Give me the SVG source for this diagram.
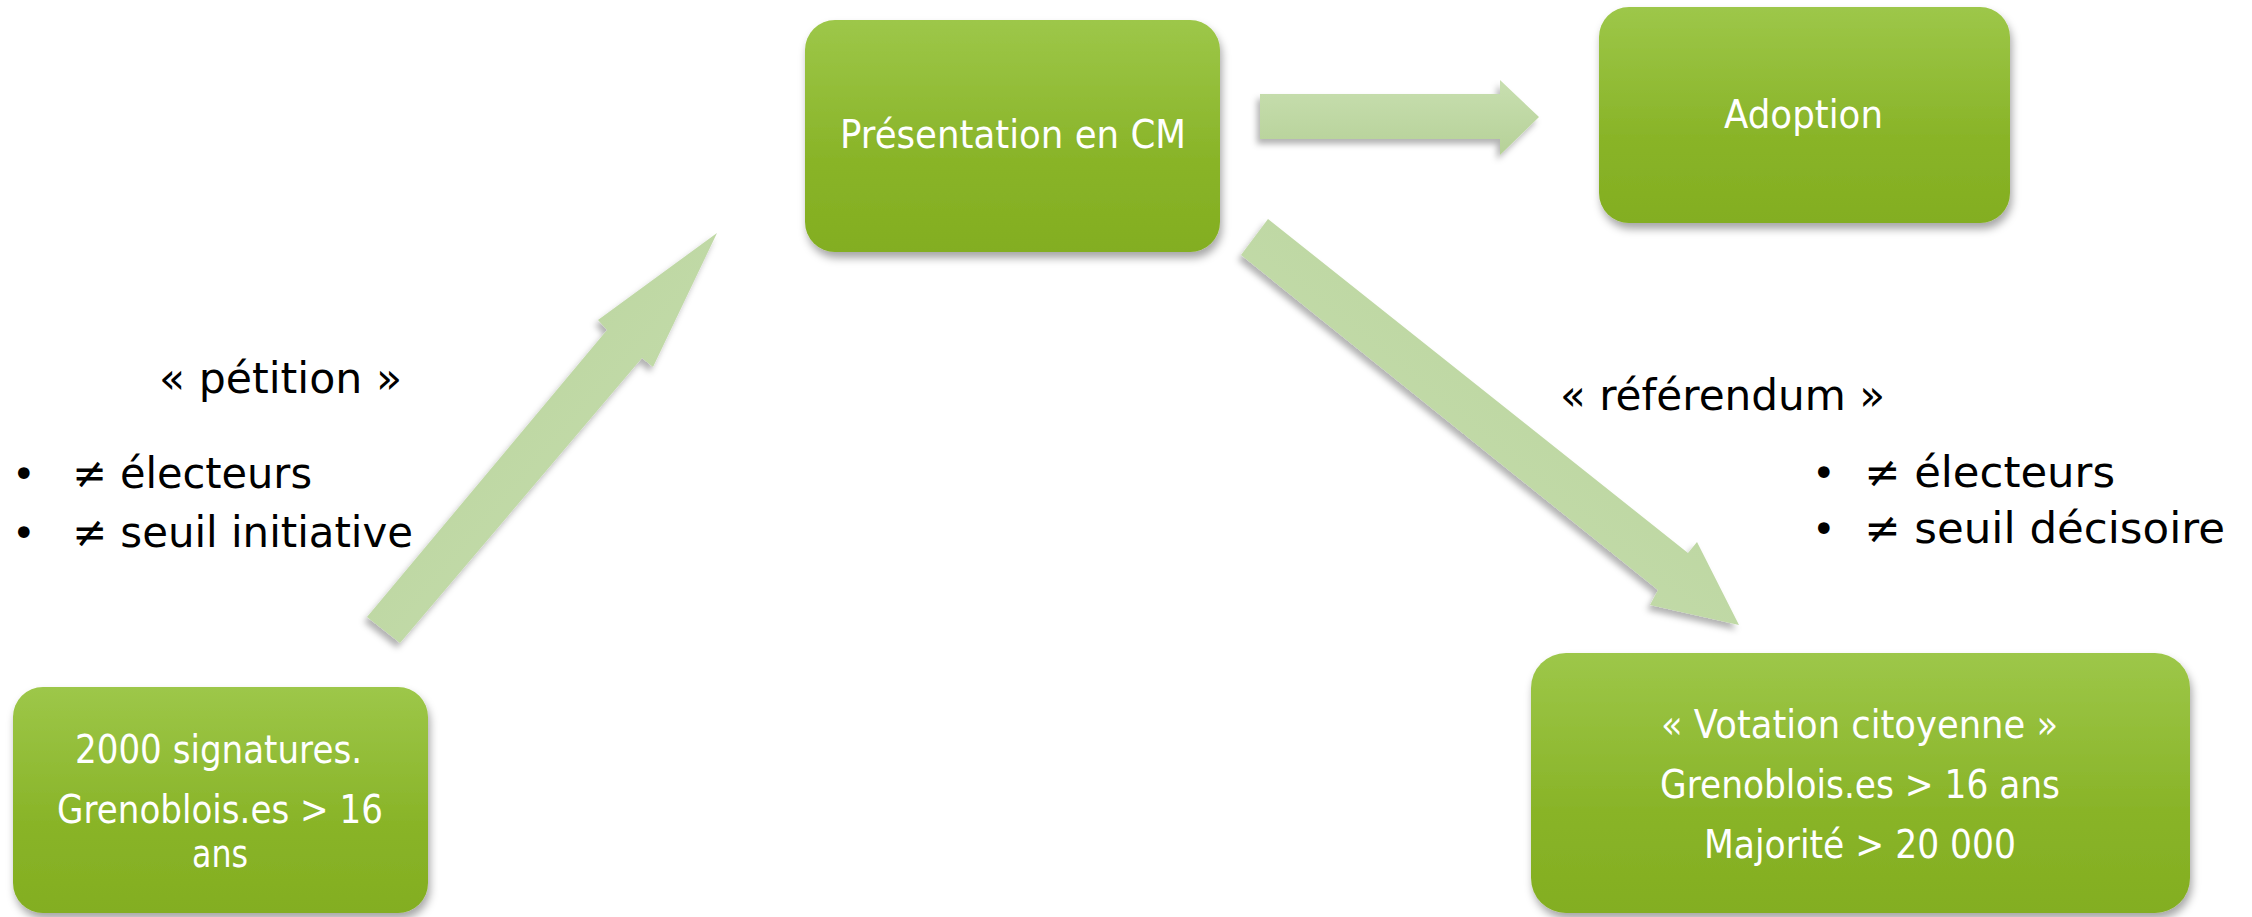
<svg xmlns="http://www.w3.org/2000/svg" width="2252" height="917" viewBox="0 0 2252 917">
  <defs>
    <linearGradient id="nodeGrad" x1="0" y1="0" x2="0" y2="1">
      <stop offset="0" stop-color="#9DC749"/>
      <stop offset="0.6" stop-color="#89B428"/>
      <stop offset="1" stop-color="#83AE21"/>
    </linearGradient>
    <linearGradient id="arrowGradH" x1="0" y1="0" x2="0" y2="1">
      <stop offset="0" stop-color="#C8DFB0"/>
      <stop offset="1" stop-color="#B6D198"/>
    </linearGradient>
    <linearGradient id="arrowGradUp" x1="0" y1="0" x2="1" y2="1">
      <stop offset="0" stop-color="#B6D198"/>
      <stop offset="1" stop-color="#C9E0B2"/>
    </linearGradient>
    <linearGradient id="arrowGradDown" x1="1" y1="0" x2="0" y2="1">
      <stop offset="0" stop-color="#B6D198"/>
      <stop offset="1" stop-color="#C9E0B2"/>
    </linearGradient>
    <filter id="shadow" x="-10%" y="-10%" width="125%" height="130%">
      <feDropShadow dx="2" dy="6" stdDeviation="4" flood-color="#000" flood-opacity="0.35"/>
    </filter>
    <filter id="ashadow" x="-10%" y="-10%" width="125%" height="130%">
      <feDropShadow dx="-3" dy="5" stdDeviation="3" flood-color="#000" flood-opacity="0.3"/>
    </filter>
  </defs>
  <style>
    .box { fill: url(#nodeGrad); filter: url(#shadow); }
    .ntext { font-family: "DejaVu Sans", "Liberation Sans", sans-serif; font-size: 39px; fill: #ffffff; }
    .label { font-family: "DejaVu Sans", "Liberation Sans", sans-serif; font-size: 43px; fill: #000000; }
    .bullet { font-family: "DejaVu Sans", "Liberation Sans", sans-serif; font-size: 40px; fill: #000000; }
  </style>
  <rect width="2252" height="917" fill="#ffffff"/>

  <g id="connectors">
    <polygon id="arrow-cm-adoption" filter="url(#ashadow)" fill="url(#arrowGradH)" points="1260,94 1500,94 1500,80 1539,117 1500,155 1500,139 1260,139"/>
    <polygon id="arrow-petition" filter="url(#ashadow)" fill="url(#arrowGradUp)" points="367,617 607,330 598,320 717,233 653,367 642,358 400,643"/>
    <polygon id="arrow-referendum" filter="url(#ashadow)" fill="url(#arrowGradDown)" points="1268,219 1688,553 1697,542 1739,625 1650,605 1658,590 1241,255"/>
  </g>

  <g id="node-presentation">
    <rect class="box" x="805" y="20" width="415" height="232" rx="30"/>
    <text class="ntext" x="840" y="148" textLength="346" lengthAdjust="spacingAndGlyphs">Présentation en CM</text>
  </g>

  <g id="node-adoption">
    <rect class="box" x="1599" y="7" width="411" height="216" rx="30"/>
    <text class="ntext" x="1724" y="128" textLength="159" lengthAdjust="spacingAndGlyphs">Adoption</text>
  </g>

  <g id="node-signatures">
    <rect class="box" x="13" y="687" width="415" height="226" rx="30"/>
    <text class="ntext" x="75" y="763" textLength="287" lengthAdjust="spacingAndGlyphs">2000 signatures.</text>
    <text class="ntext" x="57" y="823" textLength="326" lengthAdjust="spacingAndGlyphs">Grenoblois.es &gt; 16</text>
    <text class="ntext" x="192" y="867" textLength="56" lengthAdjust="spacingAndGlyphs">ans</text>
  </g>

  <g id="node-votation">
    <rect class="box" x="1531" y="653" width="659" height="260" rx="35"/>
    <text class="ntext" x="1661" y="738" textLength="397" lengthAdjust="spacingAndGlyphs">« Votation citoyenne »</text>
    <text class="ntext" x="1660" y="798" textLength="400" lengthAdjust="spacingAndGlyphs">Grenoblois.es &gt; 16 ans</text>
    <text class="ntext" x="1704" y="858" textLength="312" lengthAdjust="spacingAndGlyphs">Majorité &gt; 20 000</text>
  </g>

  <g id="label-petition">
    <text class="label" x="159" y="393" textLength="243" lengthAdjust="spacingAndGlyphs">« pétition »</text>
    <text class="bullet" x="12" y="488">•</text>
    <text class="label" x="72" y="488" textLength="240" lengthAdjust="spacingAndGlyphs">≠ électeurs</text>
    <text class="bullet" x="12" y="547">•</text>
    <text class="label" x="72" y="547" textLength="341" lengthAdjust="spacingAndGlyphs">≠ seuil initiative</text>
  </g>

  <g id="label-referendum">
    <text class="label" x="1560" y="410" textLength="325" lengthAdjust="spacingAndGlyphs">« référendum »</text>
    <text class="bullet" x="1812" y="487">•</text>
    <text class="label" x="1864" y="487" textLength="251" lengthAdjust="spacingAndGlyphs">≠ électeurs</text>
    <text class="bullet" x="1812" y="543">•</text>
    <text class="label" x="1864" y="543" textLength="361" lengthAdjust="spacingAndGlyphs">≠ seuil décisoire</text>
  </g>
</svg>
